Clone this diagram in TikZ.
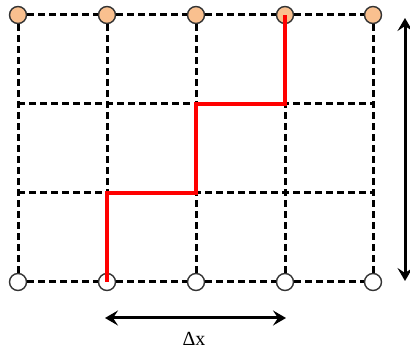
\documentclass[tikz,border=0pt]{standalone}
\usepackage{fontspec}
\setmainfont{Liberation Serif}
\usetikzlibrary{arrows.meta}

\definecolor{nodeorange}{RGB}{249,192,143}

\begin{document}
\begin{tikzpicture}[
  x=1pt, y=-1pt,
  font=\fontsize{20}{24}\selectfont,
  site/.style={circle, draw=black!80, line width=1.4pt, minimum size=17pt, inner sep=0pt},
  top/.style={site, fill=nodeorange},
  bottom/.style={site, fill=white},
  grid/.style={line width=3pt, dash pattern=on 7pt off 4pt},
  walk/.style={red, line width=3.6pt},
  span/.style={{Stealth[length=13pt,width=15pt,inset=5pt]}-{Stealth[length=13pt,width=15pt,inset=5pt]}, line width=3pt}
]
\useasboundingbox (0,0) rectangle (410,352);

% rows of the lattice
\coordinate (u1) at (18,104);
\coordinate (u2) at (107,104);
\coordinate (u3) at (196,104);
\coordinate (u4) at (285,104);
\coordinate (u5) at (373,104);
\coordinate (v1) at (18,193);
\coordinate (v2) at (107,193);
\coordinate (v3) at (196,193);
\coordinate (v4) at (285,193);
\coordinate (v5) at (373,193);

\node[top] (t1) at (18,15) {};
\node[top] (t2) at (107,15) {};
\node[top] (t3) at (196,15) {};
\node[top] (t4) at (285,15) {};
\node[top] (t5) at (373,15) {};
\node[bottom] (b1) at (18,282) {};
\node[bottom] (b2) at (107,282) {};
\node[bottom] (b3) at (196,282) {};
\node[bottom] (b4) at (285,282) {};
\node[bottom] (b5) at (373,282) {};

\draw[grid] (t1) -- (t2) -- (t3) -- (t4) -- (t5);
\draw[grid] (u1) -- (u2) -- (u3) -- (u4) -- (u5);
\draw[grid] (v1) -- (v2) -- (v3) -- (v4) -- (v5);
\draw[grid] (b1) -- (b2) -- (b3) -- (b4) -- (b5);
\draw[grid] (t1) -- (u1) -- (v1) -- (b1);
\draw[grid] (t2) -- (u2) -- (v2) -- (b2);
\draw[grid] (t3) -- (u3) -- (v3) -- (b3);
\draw[grid] (t4) -- (u4) -- (v4) -- (b4);
\draw[grid] (t5) -- (u5) -- (v5) -- (b5);

% path
\draw[walk] (b2.center) -- (v2) -- (v3) -- (u3) -- (u4) -- (t4.center);

% extents
\coordinate (ytop) at (405,18);
\coordinate (ybot) at (405,281);
\coordinate (xleft) at (105,318);
\coordinate (xright) at (286,318);
\draw[span] (ytop) -- (ybot);
\draw[span] (xleft) -- (xright);
\node (dx) at (194,339) {Δx};
\end{tikzpicture}
\end{document}
